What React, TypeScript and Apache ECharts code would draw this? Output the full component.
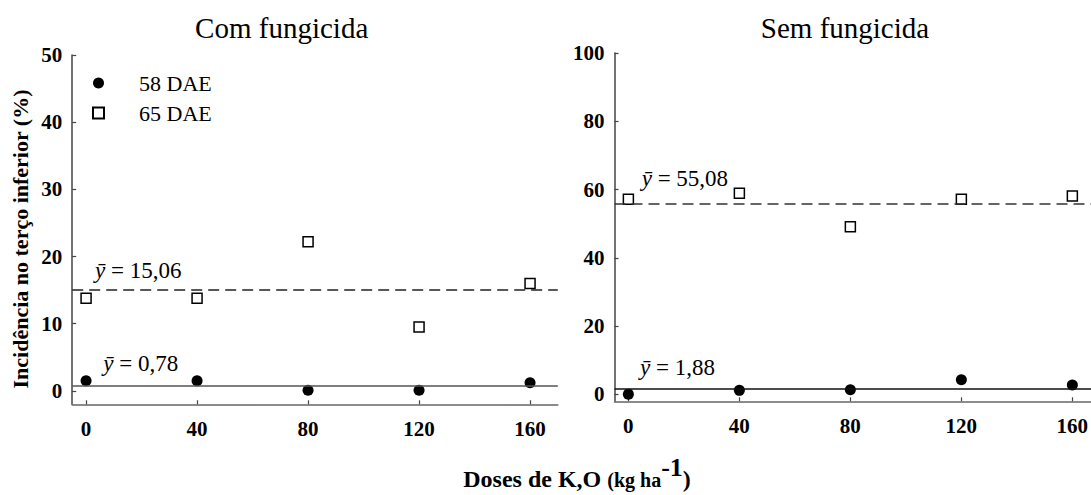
import React, { useEffect, useRef } from 'react';
import * as echarts from 'echarts';

const xDoses = [0, 40, 80, 120, 160];
const com58 = [1.5, 1.5, 0.1, 0.1, 1.2];
const com65 = [13.8, 13.8, 22.2, 9.5, 16.0];
const sem58 = [0.1, 1.2, 1.4, 4.3, 2.8];
const sem65 = [57.2, 58.9, 49.1, 57.2, 58.1];
const comTicks = [0, 10, 20, 30, 40, 50];
const semTicks = [0, 20, 40, 60, 80, 100];
const comMeans = [0.78, 15.06];
const semMeans = [1.6, 55.9];
const comMeanLabels = ['0,78', '15,06'];
const semMeanLabels = ['1,88', '55,08'];
const titles = ['Com fungicida', 'Sem fungicida'];
const seriesNames = ['58 DAE', '65 DAE'];

const FF = 'Liberation Serif';

function pts(ys: number[]) {
  return xDoses.map((x, i) => [x, ys[i]]);
}

function xAxisCfg(gridIndex: number) {
  return {
    gridIndex,
    type: 'value',
    min: -5,
    max: 170,
    axisLine: { show: true, onZero: false, lineStyle: { color: '#666', width: 1.5 } },
    axisTick: { show: true, inside: true, length: 4, customValues: xDoses, lineStyle: { color: '#444', width: 1.2 } },
    axisLabel: { customValues: xDoses, fontFamily: FF, fontWeight: 'bold', fontSize: 21, color: '#000', margin: 14 },
    splitLine: { show: false },
  };
}

function yAxisCfg(gridIndex: number, max: number, ticks: number[]) {
  return {
    gridIndex,
    type: 'value',
    min: -2,
    max,
    axisLine: { show: true, onZero: false, lineStyle: { color: '#444', width: 1.5 } },
    axisTick: { show: true, inside: true, length: 4, customValues: ticks, lineStyle: { color: '#444', width: 1.2 } },
    axisLabel: { customValues: ticks, fontFamily: FF, fontWeight: 'bold', fontSize: 21, color: '#000', margin: 10 },
    splitLine: { show: false },
  };
}

function meanLine(idx: number, value: number, dashed: boolean, color: string) {
  return {
    type: 'line',
    xAxisIndex: idx,
    yAxisIndex: idx,
    data: [],
    z: 1,
    silent: true,
    markLine: {
      symbol: ['none', 'none'],
      silent: true,
      animation: false,
      label: { show: false },
      lineStyle: { color, width: 1.5, type: dashed ? [11, 6] : 'solid' },
      data: [{ yAxis: value }],
    },
  };
}

function scatter(idx: number, name: string, ys: number[], filled: boolean) {
  return {
    type: 'scatter',
    name,
    xAxisIndex: idx,
    yAxisIndex: idx,
    z: 3,
    symbol: filled ? 'circle' : 'rect',
    symbolSize: filled ? 11 : 10,
    itemStyle: filled
      ? { color: '#000', opacity: 1 }
      : { color: '#fff', borderColor: '#000', borderWidth: 1.5, opacity: 1 },
    data: pts(ys),
  };
}

function meanText(x: number, baseline: number, value: string) {
  return {
    type: 'text',
    x,
    y: baseline - 7.8,
    style: {
      text: '{i|ȳ}{n| = ' + value + '}',
      align: 'left',
      verticalAlign: 'middle',
      rich: {
        i: { fontFamily: FF, fontStyle: 'italic', fontSize: 23, fill: '#000' },
        n: { fontFamily: FF, fontSize: 23, fill: '#000' },
      },
    },
  };
}

function measure(text: string, font: string) {
  const c = document.createElement('canvas').getContext('2d')!;
  c.font = font;
  return c.measureText(text).width;
}

export default function App() {
  const ref = useRef<HTMLDivElement>(null);
  useEffect(() => {
    const chart = echarts.init(ref.current!, null, { renderer: 'svg' });

    const parts = [
      { t: 'Doses de K,O ', size: 24, dy: 0 },
      { t: '(kg ha', size: 20, dy: 0 },
      { t: '-1', size: 26, dy: -11 },
      { t: ')', size: 24, dy: 0 },
    ];
    const widths = parts.map((p) => measure(p.t, `bold ${p.size}px ${FF}`));
    const total = widths.reduce((a, b) => a + b, 0);
    let cx = 577 - total / 2;
    const xTitle: any[] = parts.map((p, i) => {
      const el = {
        type: 'text',
        x: cx,
        y: 487 + p.dy - 0.3375 * p.size,
        style: {
          text: p.t,
          align: 'left',
          verticalAlign: 'middle',
          fontFamily: FF,
          fontWeight: 'bold',
          fontSize: p.size,
          fill: '#000',
        },
      };
      cx += widths[i];
      return el;
    });

    const option: any = {
      animation: false,
      backgroundColor: '#fff',
      grid: [
        { left: 72.2, top: 55, width: 485.6, height: 349.3 },
        { left: 614.5, top: 53, width: 485.6, height: 348.3 },
      ],
      xAxis: [xAxisCfg(0), xAxisCfg(1)],
      yAxis: [yAxisCfg(0, 50, comTicks), yAxisCfg(1, 100, semTicks)],
      legend: {
        data: [
          { name: seriesNames[0], icon: 'circle' },
          { name: seriesNames[1], icon: 'rect' },
        ],
        orient: 'vertical',
        left: 87,
        top: 67,
        itemWidth: 11,
        itemHeight: 11,
        itemGap: 8,
        selectedMode: false,
        textStyle: { fontFamily: FF, fontSize: 22, color: '#000', lineHeight: 22, padding: [0, 0, 0, 30] },
      },
      series: [
        meanLine(0, comMeans[0], false, '#555'),
        meanLine(0, comMeans[1], true, '#222'),
        meanLine(1, semMeans[0], false, '#111'),
        meanLine(1, semMeans[1], true, '#333'),
        scatter(0, seriesNames[0], com58, true),
        scatter(0, seriesNames[1], com65, false),
        scatter(1, seriesNames[0], sem58, true),
        scatter(1, seriesNames[1], sem65, false),
      ],
      graphic: [
        {
          type: 'text',
          x: 281.7,
          y: 27.5,
          style: { text: titles[0], align: 'center', verticalAlign: 'middle', fontFamily: FF, fontSize: 29, fill: '#000' },
        },
        {
          type: 'text',
          x: 845,
          y: 27.5,
          style: { text: titles[1], align: 'center', verticalAlign: 'middle', fontFamily: FF, fontSize: 29, fill: '#000' },
        },
        {
          type: 'text',
          x: 20.5,
          y: 239,
          rotation: Math.PI / 2,
          style: {
            text: 'Incidência no terço inferior (%)',
            align: 'center',
            verticalAlign: 'middle',
            fontFamily: FF,
            fontWeight: 'bold',
            fontSize: 22,
            fill: '#000',
          },
        },
        meanText(95, 278, comMeanLabels[1]),
        meanText(103.3, 371.7, comMeanLabels[0]),
        meanText(641.7, 186.7, semMeanLabels[1]),
        meanText(640, 375, semMeanLabels[0]),
        ...xTitle,
      ],
    };
    chart.setOption(option);
    return () => chart.dispose();
  }, []);
  return (
    <div style={{ position: 'fixed', left: 0, top: 0, width: 1091, height: 495, overflow: 'hidden', background: '#fff' }}>
      <div ref={ref} style={{ width: 1110, height: 495 }} />
    </div>
  );
}
